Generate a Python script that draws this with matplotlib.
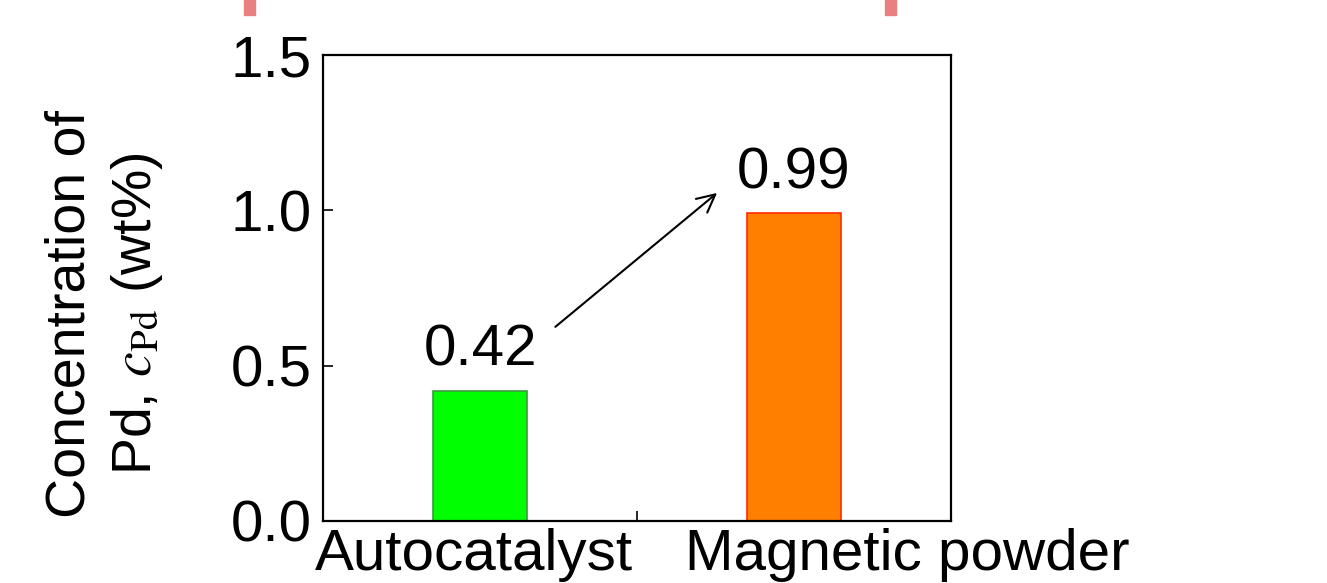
import matplotlib
matplotlib.use('Agg')
import matplotlib.pyplot as plt
from matplotlib.patches import Rectangle
from matplotlib.ticker import MultipleLocator
from matplotlib.transforms import blended_transform_factory

# 데이터
categories = ['Autocatalyst', 'Magnetic powder']
label_x = [-0.02, 1.36]   # 라벨 중심 위치 (원본 그림처럼 오른쪽 라벨이 치우쳐 있음)
values = [0.42, 0.99]
value_labels = ['0.42', '0.99']
bar_colors = ['#00FF00', '#FF8000']
edge_colors = ['#3C9A3C', '#FF2A00']
y_ticks = [0.0, 0.5, 1.0, 1.5]

plt.rcParams['font.family'] = 'Liberation Sans'
plt.rcParams['mathtext.fontset'] = 'stix'
plt.rcParams['font.size'] = 42

fig = plt.figure(figsize=(13.27, 5.83), dpi=100)
ax = fig.add_axes([323 / 1327, 1 - 521 / 583, (951 - 323) / 1327, (521 - 55) / 583])

x = list(range(len(categories)))
ax.bar(x, values, width=0.3, color=bar_colors, edgecolor=edge_colors, linewidth=1.2, zorder=2)

for xi, v, lab in zip(x, values, value_labels):
    ax.text(xi, v + 0.08, lab, ha='center', va='baseline', fontsize=42)

# 화살표
ax.annotate('', xy=(0.755, 1.056), xytext=(0.24, 0.625),
            arrowprops=dict(arrowstyle='->', color='black', lw=1.5, mutation_scale=32,
                            shrinkA=0, shrinkB=0))

ax.set_xlim(-0.5, 1.5)
ax.set_ylim(0, 1.5)
ax.set_xticks(x)
ax.set_xticklabels(['', ''])
ax.xaxis.set_minor_locator(MultipleLocator(0.5))
ax.set_yticks(y_ticks)
ax.set_yticklabels([f'{t:.1f}' for t in y_ticks])
ax.tick_params(axis='both', which='both', direction='in', length=7, width=1.2, labelsize=42)
ax.tick_params(axis='y', which='major', pad=8)
for s in ax.spines.values():
    s.set_linewidth(1.6)

# x축 라벨
trans = blended_transform_factory(ax.transData, ax.transAxes)
for lx, cat in zip(label_x, categories):
    ax.text(lx, -0.014, cat, ha='center', va='top', fontsize=42, transform=trans, clip_on=False)

ax.set_ylabel('Concentration of\nPd, $c_{\\mathrm{Pd}}$ (wt%)', fontsize=40, linespacing=1.3, labelpad=47)
ax.yaxis.label.set_y(0.445)

# 위쪽 빨간 표시
for px in [244, 885]:
    fig.patches.append(Rectangle((px / 1327, 1 - 15 / 583), 11 / 1327, 15 / 583,
                                 transform=fig.transFigure, color='#E88080', zorder=0))

fig.savefig('out.png', dpi=100)
